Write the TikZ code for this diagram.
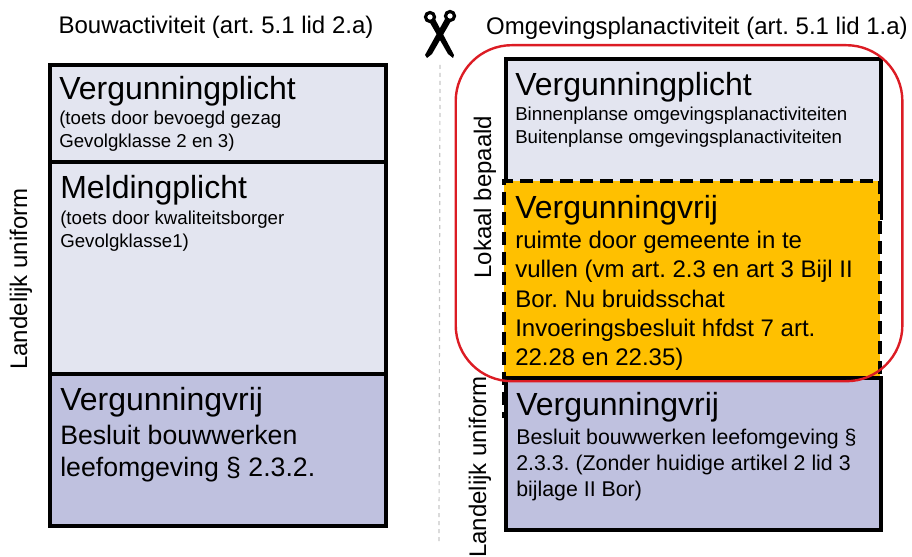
\documentclass[tikz,border=0pt]{standalone}
\usepackage{fontspec}
\setmainfont{Liberation Sans}
\definecolor{lightvak}{HTML}{E3E5F0}
\definecolor{bluevak}{HTML}{BFC1DF}
\definecolor{orangevak}{HTML}{FFC000}
\definecolor{redline}{HTML}{DC1C24}
\frenchspacing
\tikzset{
    vak/.style={draw=black, line width=3pt, anchor=north west, inner sep=0pt},
    vakdash/.style={vak, dash pattern=on 10pt off 5pt},
    kop/.style={anchor=north west, inner sep=0pt, align=left, font=\fontsize{24}{28}\selectfont},
    subxs/.style={anchor=north west, inner sep=0pt, align=left, font=\fontsize{14}{17.3}\selectfont},
    subs/.style={anchor=north west, inner sep=0pt, align=left, font=\fontsize{16}{19.5}\selectfont},
    subm/.style={anchor=north west, inner sep=0pt, align=left, font=\fontsize{18}{22}\selectfont},
    subl/.style={anchor=north west, inner sep=0pt, align=left, font=\fontsize{20}{24}\selectfont},
    titel/.style={inner sep=0pt, font=\fontsize{18}{21}\selectfont},
    zij/.style={titel, rotate=90},
}
\begin{document}
\begin{tikzpicture}[x=0.75pt, y=-0.75pt]
    \useasboundingbox (0, 0) rectangle (912, 556);
    % titels
    \node (bouwtitel) at (216, 27) [titel] {Bouwactiviteit (art. 5.1 lid 2.a)};
    \node (plantitel) at (697, 28) [titel] {Omgevingsplanactiviteit (art. 5.1 lid 1.a)};
    % schaar en knippen
    \coordinate (knipboven) at (440, 65);
    \coordinate (kniponder) at (439, 543);
    \draw[black!22, line width=0.9pt, dashed] (knipboven) to (kniponder);
    \draw[line width=2.4pt] (430, 17) circle (4.5);
    \draw[line width=2.4pt] (450, 16) circle (4.5);
    \fill (429, 21) -- (435, 19) -- (454, 55) -- (453, 58) -- (448, 54) -- cycle;
    \fill (445, 19) -- (451, 21) -- (432, 54) -- (427, 58) -- (425, 55) -- cycle;
    % links
    \node (linksplicht) at (48, 63) [vak, fill=lightvak, minimum width=252pt, minimum height=73pt] {};
    \node (linksmeld) at (48, 160) [vak, fill=lightvak, minimum width=252pt, minimum height=159pt] {};
    \node (linksvrij) at (48, 372) [vak, fill=bluevak, minimum width=252pt, minimum height=114pt] {};
    \node (kop1) at (59, 76) [kop] {Vergunningplicht};
    \node (sub1) at (59, 111) [subxs] {(toets door bevoegd gezag\\Gevolgklasse 2 en 3)};
    \node (kop2) at (60, 175) [kop] {Meldingplicht};
    \node (sub2) at (60, 211) [subxs] {(toets door kwaliteitsborger\\Gevolgklasse1)};
    \node (kop3) at (60, 387) [kop] {Vergunningvrij};
    \node (sub3) at (60, 425) [subl] {Besluit bouwwerken\\leefomgeving § 2.3.2.};
    \node (landelijk1) at (21, 279) [zij] {Landelijk uniform};
    % rechts
    \node (rechtsplicht) at (504, 57) [vak, fill=lightvak, minimum width=281pt, minimum height=119pt] {};
    \node (rechtslokaal) at (502, 179) [vakdash, fill=orangevak, minimum width=282pt, minimum height=178pt] {};
    \node (rechtsvrij) at (504, 376) [vak, fill=bluevak, minimum width=281pt, minimum height=114pt] {};
    \node (kop4) at (515, 72) [kop] {Vergunningplicht};
    \node (sub4) at (515, 107) [subxs] {Binnenplanse omgevingsplanactiviteiten\\Buitenplanse omgevingsplanactiviteiten};
    \node (kop5) at (515, 195) [kop] {Vergunningvrij};
    \node (sub5) at (515, 231) [subm] {ruimte door gemeente in te\\vullen (vm art. 2.3 en art 3 Bijl II\\Bor. Nu bruidsschat\\Invoeringsbesluit hfdst 7 art.\\22.28 en 22.35)};
    \node (kop6) at (516, 392) [kop] {Vergunningvrij};
    \node (sub6) at (516, 429) [subs] {Besluit bouwwerken leefomgeving §\\2.3.3. (Zonder huidige artikel 2 lid 3\\bijlage II Bor)};
    \node (lokaal) at (485, 197) [zij] {Lokaal bepaald};
    \node (landelijk2) at (480, 467) [zij] {Landelijk uniform};
    % rode kader
    \node (kader) at (454.5, 44) [anchor=north west, draw=redline, line width=1.8pt, rounded corners=42pt, inner sep=0pt, minimum width=335pt, minimum height=252pt] {};
\end{tikzpicture}
\end{document}
